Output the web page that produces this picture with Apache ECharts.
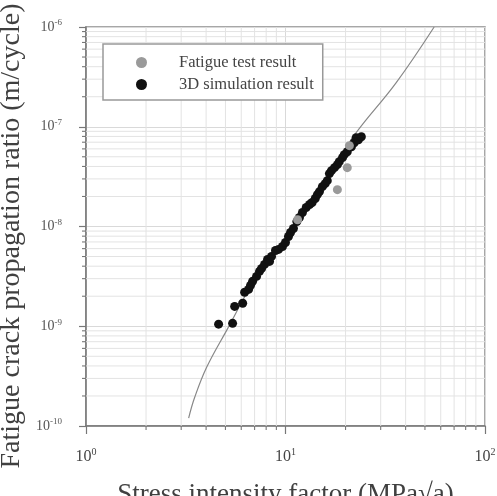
<!DOCTYPE html>
<html>
<head>
<meta charset="utf-8">
<script src="https://cdn.jsdelivr.net/npm/echarts@6/dist/echarts.min.js"></script>
<style>html,body{margin:0;padding:0;background:#fff;}#c{width:497px;height:496px;}</style>
</head>
<body>
<div id="c"></div>
<script>
// ---- data ----
const simX = [4.62, 5.43, 5.56, 6.10, 6.24, 6.53, 6.68, 6.84, 7.16, 7.41, 7.59, 7.85, 8.13, 8.32, 8.51, 8.91, 9.23, 9.66, 10.0, 10.35, 10.6, 10.96, 11.4, 11.75, 12.16, 12.7, 13.2, 13.6, 14.1, 14.45, 14.8, 15.3, 15.8, 16.2, 16.6, 17.0, 17.6, 18.2, 18.6, 19.3, 19.7, 20.4, 21.4, 22.1, 22.6, 23.2, 24.0];
const simY = [1.05e-9, 1.07e-9, 1.58e-9, 1.70e-9, 2.19e-9, 2.34e-9, 2.57e-9, 2.82e-9, 3.16e-9, 3.55e-9, 3.80e-9, 4.17e-9, 4.68e-9, 4.47e-9, 5.01e-9, 5.75e-9, 5.89e-9, 6.31e-9, 6.92e-9, 7.94e-9, 8.71e-9, 9.55e-9, 1.12e-8, 1.23e-8, 1.38e-8, 1.55e-8, 1.66e-8, 1.74e-8, 1.91e-8, 2.09e-8, 2.24e-8, 2.51e-8, 2.69e-8, 2.88e-8, 3.39e-8, 3.63e-8, 3.89e-8, 4.17e-8, 4.47e-8, 4.90e-8, 5.25e-8, 5.62e-8, 6.31e-8, 6.92e-8, 7.76e-8, 7.41e-8, 7.94e-8];
const testX = [11.5, 18.2, 20.4, 20.9];
const testY = [1.17e-8, 2.34e-8, 3.89e-8, 6.46e-8];
const fitX = [3.27, 3.51, 4.03, 5.07, 7.2, 10.0, 15.0, 21.6, 35.9, 55.6];
const fitY = [1.2e-10, 1.95e-10, 3.9e-10, 9.1e-10, 3.2e-9, 7.4e-9, 2.35e-8, 7.7e-8, 2.77e-7, 1.0e-6];
const xRange = [1, 100];
const yRange = [1e-10, 1e-6];
const xDecades = [1, 10];
const yDecades = [1e-10, 1e-9, 1e-8, 1e-7];
const minorMult = [2, 3, 4, 5, 6, 7, 8, 9];
const seriesNames = ['Fatigue test result', '3D simulation result'];
const xTitle = 'Stress intensity factor (MPa\u221Aa)';
const yTitle = 'Fatigue crack propagation ratio (m/cycle)';

const zip = (a, b) => a.map((v, i) => [v, b[i]]);
const minorData = [];
xDecades.forEach(d => minorMult.forEach(m => minorData.push([d * m, 1e-8, 0])));
yDecades.forEach(d => minorMult.forEach(m => minorData.push([10, d * m, 1])));

const serif = '"Liberation Serif", "DejaVu Serif", serif';
const expLabel = v => '{b|10}{s|' + Math.round(Math.log10(v)) + '}';

const chart = echarts.init(document.getElementById('c'), null, {renderer: 'canvas'});
chart.setOption({
  animation: false,
  backgroundColor: '#fff',
  grid: {left: 86, right: 12, top: 27, bottom: 70, show: true, borderColor: '#8a8a8a', borderWidth: 1.5, containLabel: false, outerBoundsMode: 'none'},
  xAxis: {
    type: 'log', logBase: 10, min: xRange[0], max: xRange[1],
    name: xTitle, nameLocation: 'middle', nameGap: 55,
    nameTextStyle: {fontFamily: serif, fontSize: 27, color: '#404040'},
    axisLine: {show: true, lineStyle: {color: '#777', width: 1.5}},
    axisTick: {show: true, inside: false, length: 8, lineStyle: {color: '#777', width: 1.2}},
    splitLine: {show: true, lineStyle: {color: '#d9d9d9', width: 1}},
    axisLabel: {
      margin: 21, formatter: expLabel,
      rich: {b: {fontFamily: serif, fontSize: 16, color: '#444'}, s: {fontFamily: serif, fontSize: 10, color: '#444', padding: [0, 0, 9, 0]}}
    }
  },
  yAxis: {
    type: 'log', logBase: 10, min: yRange[0], max: yRange[1],
    axisLine: {show: true, lineStyle: {color: '#777', width: 1.5}},
    axisTick: {show: true, inside: false, length: 7, lineStyle: {color: '#777', width: 1.2}},
    splitLine: {show: true, lineStyle: {color: '#d9d9d9', width: 1}},
    axisLabel: {
      margin: 24, formatter: expLabel,
      rich: {b: {fontFamily: serif, fontSize: 14, color: '#555'}, s: {fontFamily: serif, fontSize: 9, color: '#555', padding: [0, 0, 8, 0]}}
    }
  },
  legend: {
    data: seriesNames,
    orient: 'vertical', left: 103, top: 44,
    padding: [10, 9, 7, 33], itemGap: 5, itemWidth: 11, itemHeight: 11,
    backgroundColor: '#fff', borderColor: '#999', borderWidth: 1.5,
    textStyle: {fontFamily: serif, fontSize: 16.5, color: '#444', lineHeight: 16, padding: [0, 0, 0, 27]}
  },
  graphic: [{
    type: 'text', x: 12, y: 236, rotation: Math.PI / 2,
    style: {text: yTitle, font: '28px ' + serif, fill: '#404040', textAlign: 'center', textVerticalAlign: 'middle'}
  }],
  series: [
    {
      type: 'custom', silent: true, z: 1, clip: false,
      data: minorData,
      renderItem: function (params, api) {
        const v0 = api.value(0), v1 = api.value(1), flag = api.value(2);
        const grid = {type: 'line', style: {stroke: '#e3e3e3', lineWidth: 1}};
        const tick = {type: 'line', style: {stroke: '#777', lineWidth: 1.1}};
        if (flag === 0) {
          const p1 = api.coord([v0, yRange[0]]), p2 = api.coord([v0, yRange[1]]);
          grid.shape = {x1: p1[0], y1: p1[1], x2: p2[0], y2: p2[1]};
          tick.shape = {x1: p1[0], y1: p1[1], x2: p1[0], y2: p1[1] + 4};
        } else {
          const p1 = api.coord([xRange[0], v1]), p2 = api.coord([xRange[1], v1]);
          grid.shape = {x1: p1[0], y1: p1[1], x2: p2[0], y2: p2[1]};
          tick.shape = {x1: p1[0], y1: p1[1], x2: p1[0] - 4, y2: p1[1]};
        }
        return {type: 'group', children: [grid, tick]};
      }
    },
    {
      name: 'fit', type: 'line', data: zip(fitX, fitY), smooth: 0.4, showSymbol: false, z: 2,
      lineStyle: {color: '#888', width: 1.2}, silent: true
    },
    {
      name: seriesNames[1], type: 'scatter', data: zip(simX, simY), symbol: 'circle', symbolSize: 9, z: 3,
      itemStyle: {color: '#111', opacity: 1}
    },
    {
      name: seriesNames[0], type: 'scatter', data: zip(testX, testY), symbol: 'circle', symbolSize: 9, z: 4,
      itemStyle: {color: '#9a9a9a', opacity: 1}
    }
  ]
});
</script>
</body>
</html>
